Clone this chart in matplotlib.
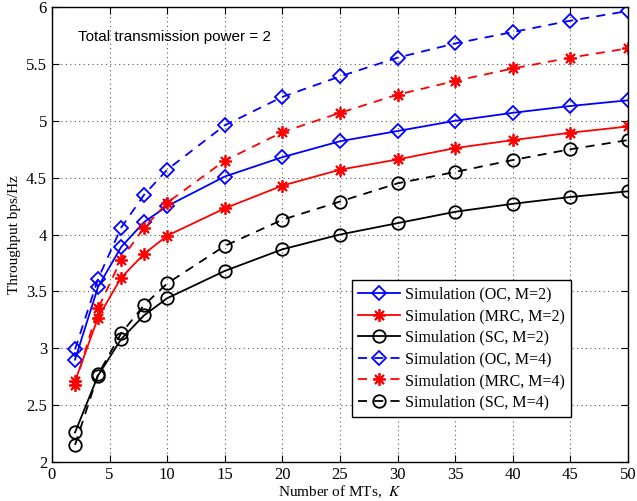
import matplotlib
matplotlib.use("Agg")
import matplotlib.pyplot as plt

plt.rcParams['mathtext.fontset'] = 'stix'

K = [2, 4, 6, 8, 10, 15, 20, 25, 30, 35, 40, 45, 50]
oc_m2 = [2.90, 3.54, 3.89, 4.11, 4.25, 4.51, 4.68, 4.82, 4.91, 5.00, 5.07, 5.13, 5.18]
mrc_m2 = [2.71, 3.27, 3.62, 3.83, 3.99, 4.23, 4.43, 4.57, 4.66, 4.76, 4.83, 4.895, 4.95]
sc_m2 = [2.26, 2.76, 3.08, 3.29, 3.44, 3.68, 3.87, 4.00, 4.10, 4.20, 4.27, 4.33, 4.38]
oc_m4 = [2.99, 3.61, 4.06, 4.35, 4.57, 4.96, 5.21, 5.39, 5.555, 5.68, 5.78, 5.88, 5.965]
mrc_m4 = [2.68, 3.35, 3.78, 4.06, 4.28, 4.65, 4.90, 5.07, 5.23, 5.35, 5.46, 5.555, 5.637]
sc_m4 = [2.15, 2.77, 3.13, 3.38, 3.57, 3.90, 4.13, 4.29, 4.45, 4.55, 4.655, 4.75, 4.83]

labels = ["Simulation (OC, M=2)", "Simulation (MRC, M=2)", "Simulation (SC, M=2)",
          "Simulation (OC, M=4)", "Simulation (MRC, M=4)", "Simulation (SC, M=4)"]

serif = ["Liberation Serif", "DejaVu Serif"]

fig = plt.figure(figsize=(6.37, 5.01), dpi=100)
ax = fig.add_axes([0.0816, 0.0778, 0.9044, 0.9082])

star = (8, 2, 0)
lw = 1.3
ax.plot(K, oc_m2, '-', color='blue', marker='D', ms=7, mfc='none', mew=1.3, lw=lw, label=labels[0])
ax.plot(K, mrc_m2, '-', color='red', marker=star, ms=9, mew=1.3, lw=lw, label=labels[1])
ax.plot(K, sc_m2, '-', color='black', marker='o', ms=9, mfc='none', mew=1.3, lw=lw, label=labels[2])
ax.plot(K, oc_m4, '--', color='blue', marker='D', ms=7, mfc='none', mew=1.3, lw=lw, dashes=(5, 4), label=labels[3])
ax.plot(K, mrc_m4, '--', color='red', marker=star, ms=9, mew=1.3, lw=lw, dashes=(5, 4), label=labels[4])
ax.plot(K, sc_m4, '--', color='black', marker='o', ms=9, mfc='none', mew=1.3, lw=lw, dashes=(5, 4), label=labels[5])

ax.set_xlim(0, 50)
ax.set_ylim(2, 6)
ax.set_xticks(range(0, 51, 5))
ax.set_yticks([2, 2.5, 3, 3.5, 4, 4.5, 5, 5.5, 6])
ax.set_yticklabels(["2", "2.5", "3", "3.5", "4", "4.5", "5", "5.5", "6"])
ax.tick_params(direction='in', top=True, right=True, labelsize=12, length=5)
for lab in ax.get_xticklabels() + ax.get_yticklabels():
    lab.set_family(serif)
ax.grid(True, linestyle=(0, (1, 3)), color='0.35', linewidth=0.8)
for s in ax.spines.values():
    s.set_linewidth(1.0)

ax.set_xlabel("Number of MTs,  $K$", family=serif, fontsize=11, labelpad=0)
ax.set_ylabel("Throughput bps/Hz", family=serif, fontsize=11, labelpad=4)

ax.text(0.045, 0.935, "Total transmission power = 2", transform=ax.transAxes,
        family=["Liberation Sans", "DejaVu Sans"], fontsize=11, va='center', ha='left')

leg = ax.legend(loc='lower right', bbox_to_anchor=(0.901, 0.099), prop={'family': serif, 'size': 11.5},
                fancybox=False, edgecolor='black', framealpha=1, borderpad=0.4,
                labelspacing=0.35, handlelength=2.6, handletextpad=0.3, borderaxespad=0)
leg.get_frame().set_linewidth(1.0)

fig.savefig("out.png", dpi=100)
